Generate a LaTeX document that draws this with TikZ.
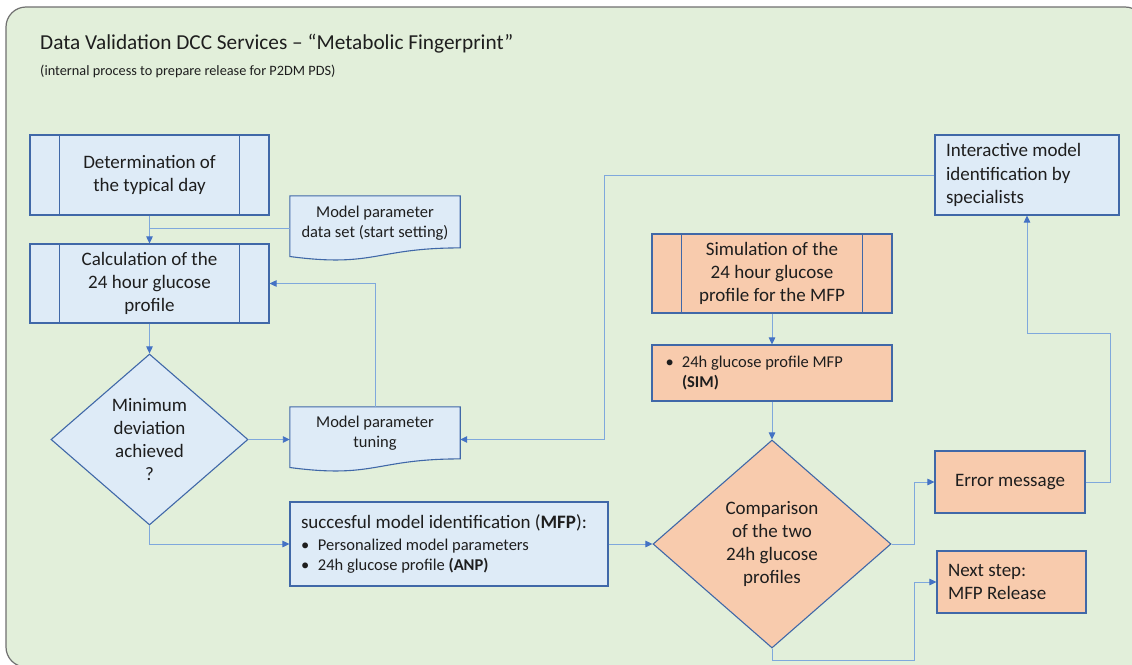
\documentclass[tikz,border=0pt]{standalone}
\usepackage{fontspec}
\setmainfont{Carlito}
\usetikzlibrary{shapes.geometric,arrows.meta,calc}
\definecolor{frameFill}{HTML}{E2EFDA}
\definecolor{frameLine}{HTML}{707070}
\definecolor{blueFill}{HTML}{DEEBF7}
\definecolor{orangeFill}{HTML}{F8CBAD}
\definecolor{boxLine}{HTML}{4068A8}
\definecolor{connLine}{HTML}{7FA8DC}
\definecolor{tipCol}{HTML}{4472C4}
\definecolor{txt}{HTML}{1E1E1E}
\newcommand{\nsp}{\spaceskip=0pt\xspaceskip=0pt\relax}
\begin{document}
\begin{tikzpicture}[x=1pt,y=-1pt,
  box/.style={draw=boxLine, line width=1.1pt, rectangle, inner sep=0pt, text=txt, align=center},
  bluebox/.style={box, fill=blueFill},
  orbox/.style={box, fill=orangeFill},
  edge/.style={draw=boxLine, line width=1.1pt},
  conn/.style={draw=connLine, line width=0.9pt},
  arr/.style={conn, -{Triangle[length=7pt,width=6.5pt,color=tipCol]}},
  big/.style={font=\fontsize{19}{23.3}\selectfont},
  small/.style={font=\fontsize{16.5}{20}\selectfont},
]
\useasboundingbox (0,0) rectangle (1132,664);
\fill[white] (0,0) rectangle (1132,664);
\draw[fill=frameFill, draw=frameLine, line width=1.2pt, rounded corners=20pt] (6,7) rectangle (1145,667);

% title
\node[anchor=west, inner sep=0, text=txt, font=\fontsize{21.3}{26}\selectfont] (title) at (40,44) {Data Validation DCC Services – “Metabolic Fingerprint”};
\node[anchor=west, inner sep=0, text=txt, font=\fontsize{14.3}{17}\selectfont] (sub) at (40,71) {(internal process to prepare release for P2DM PDS)};

% left column
\node[bluebox, big, minimum width=239pt, minimum height=80pt] (det) at (149.5,175) {\nsp Determination of\\the typical day};
\draw[edge] ($(det.north west)+(30,0)$) -- ($(det.south west)+(30,0)$);
\draw[edge] ($(det.north east)+(-30,0)$) -- ($(det.south east)+(-30,0)$);

\node[bluebox, big, minimum width=239pt, minimum height=79pt] (calc) at (149.5,283.5) {\nsp Calculation of the\\24 hour glucose\\profile};
\draw[edge] ($(calc.north west)+(30,0)$) -- ($(calc.south west)+(30,0)$);
\draw[edge] ($(calc.north east)+(-30,0)$) -- ($(calc.south east)+(-30,0)$);

% document: data set
\node[minimum width=170pt, minimum height=65pt, inner sep=0] (ds) at (375,228.5) {};
\path[edge, fill=blueFill] (ds.north west) -- (ds.north east) -- ($(ds.north east)+(0,52.1)$)
  .. controls ($(ds.north)+(0,52.1)$) and ($(ds.north)+(0,72)$) .. ($(ds.north west)+(0,60.7)$) -- cycle;
\node[small, align=center, text=txt] (dsT) at ($(ds.center)+(0,-5.5)$) {\nsp Model parameter\\data set (start setting)};

% document: tuning
\node[minimum width=170pt, minimum height=65pt, inner sep=0] (tune) at (375,439.5) {};
\path[edge, fill=blueFill] (tune.north west) -- (tune.north east) -- ($(tune.north east)+(0,52.1)$)
  .. controls ($(tune.north)+(0,52.1)$) and ($(tune.north)+(0,72)$) .. ($(tune.north west)+(0,60.7)$) -- cycle;
\node[small, align=center, text=txt] (tuneT) at ($(tune.center)+(0,-6)$) {\nsp Model parameter\\tuning};

% decision
\node[diamond, draw=boxLine, fill=blueFill, line width=1.1pt, minimum width=197pt, minimum height=171pt, inner sep=0] (dev) at (149.5,439.5) {};
\node[big, align=center, text=txt] (devT) at (dev.center) {Minimum\\deviation\\achieved\\?};

% MFP box
\node[bluebox, minimum width=318pt, minimum height=84pt, text width=296pt, inner xsep=11pt, align=left, font=\fontsize{16.5}{20}\selectfont] (mfp) at (449,544)
 {\nsp{\fontsize{19}{22}\selectfont succesful model identification (\textbf{MFP}):}\\[2pt]
  \makebox[17pt][l]{•}Personalized model parameters\\
  \makebox[17pt][l]{•}24h glucose profile \textbf{(ANP)}};

% right part
\node[bluebox, big, minimum width=184pt, minimum height=80pt, text width=162pt, inner xsep=11pt, align=left] (inter) at (1027,175) {\nsp Interactive model\\identification by\\specialists};

\node[orbox, big, minimum width=240pt, minimum height=79pt] (sim) at (772,273.5) {\nsp Simulation of the\\24 hour glucose\\profile for the MFP};
\draw[edge] ($(sim.north west)+(30,0)$) -- ($(sim.south west)+(30,0)$);
\draw[edge] ($(sim.north east)+(-30,0)$) -- ($(sim.south east)+(-30,0)$);

\node[orbox, small, minimum width=240pt, minimum height=56pt, text width=212.8pt, inner xsep=13.6pt, align=left] (sim2) at (772,373)
 {\nsp\makebox[16.4pt][l]{•}24h glucose profile MFP\\\hspace*{16.4pt}\textbf{(SIM)}};

\node[diamond, draw=boxLine, fill=orangeFill, line width=1.1pt, minimum width=238pt, minimum height=208pt, inner sep=0] (cmp) at (772,544) {};
\node[big, align=center, text=txt] (cmpT) at (cmp.center) {\nsp Comparison\\of the two\\24h glucose\\profiles};

\node[orbox, big, minimum width=150pt, minimum height=62pt] (err) at (1010,482) {\nsp Error message};
\node[orbox, big, minimum width=149pt, minimum height=62pt, text width=127pt, inner xsep=11pt, align=left] (next) at (1011.5,582) {\nsp Next step:\\MFP Release};

% connectors
\draw[arr] (det.south) -- (calc.north);
\draw[conn] (ds.west) -- (ds.west -| det.south);
\draw[arr] (tune.north) |- (calc.east);
\draw[arr] (calc.south) -- (dev.north);
\draw[arr] (dev.east) -- (tune.west);
\draw[arr] (dev.south) |- (mfp.west);
\draw[arr] (mfp.east) -- (cmp.west);
\coordinate (kx) at (604,0);
\draw[arr] (inter.west) -- (inter.west -| kx) |- (tune.east);
\draw[arr] (sim.south) -- (sim2.north);
\draw[arr] (sim2.south) -- (cmp.north);
\coordinate (kr) at (914,0);
\draw[arr] (cmp.east) -- (cmp.east -| kr) |- (err.west);
\coordinate (kb) at (914,660);
\draw[arr] (cmp.south) |- (kb) |- (next.west);
\coordinate (ke) at (1110,333);
\draw[arr] (err.east) -| (ke) -| (inter.south);
\end{tikzpicture}
\end{document}
